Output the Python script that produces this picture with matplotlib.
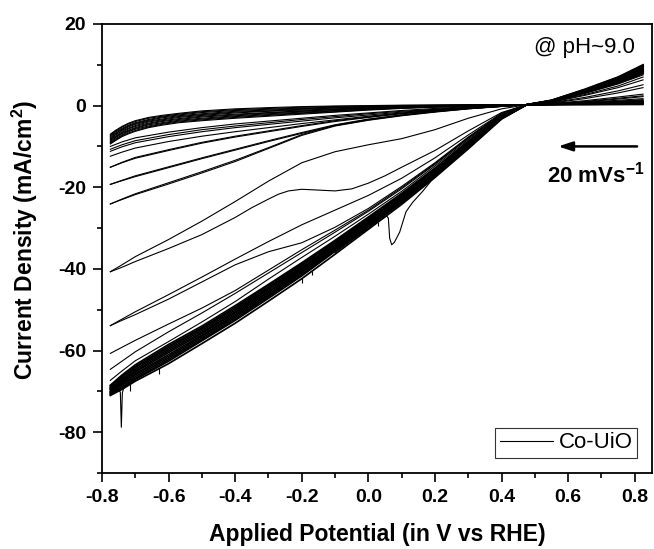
import matplotlib
matplotlib.use('Agg')
import matplotlib.pyplot as plt
from matplotlib.ticker import MultipleLocator

# ---------------- data ----------------
# common potential grid (V vs RHE)
E_grid = [-0.775, -0.74, -0.70, -0.60, -0.50, -0.40, -0.30, -0.20, -0.10, 0.00,
          0.10, 0.20, 0.30, 0.40, 0.475, 0.55, 0.65, 0.75, 0.825]

# finer grid used for the top cluster
E_top = [-0.775, -0.76, -0.74, -0.72, -0.70, -0.66, -0.62, -0.57, -0.50, -0.40,
         -0.30, -0.20, -0.10, 0.00, 0.10, 0.20, 0.30, 0.40, 0.475, 0.55, 0.65,
         0.75, 0.825]

# top cluster of cycles (mA/cm2)
J_top = [
    [-7.0, -6.1, -5.1, -4.3, -3.7, -2.9, -2.4, -1.9, -1.3, -0.8, -0.5, -0.25, -0.1, 0.0, 0.1, 0.15, 0.2, 0.2, 0.2, 0.2, 0.2, 0.2, 0.2],
    [-7.2, -6.3, -5.3, -4.5, -3.9, -3.1, -2.6, -2.1, -1.5, -1.0, -0.7, -0.4, -0.2, -0.1, 0.03, 0.1, 0.16, 0.18, 0.2, 0.2, 0.2, 0.25, 0.3],
    [-7.4, -6.5, -5.6, -4.8, -4.2, -3.4, -2.8, -2.3, -1.7, -1.2, -0.9, -0.6, -0.4, -0.2, -0.04, 0.05, 0.13, 0.16, 0.2, 0.2, 0.25, 0.3, 0.35],
    [-7.6, -6.8, -5.8, -5.0, -4.4, -3.6, -3.0, -2.5, -2.0, -1.4, -1.1, -0.75, -0.5, -0.3, -0.1, 0.0, 0.1, 0.15, 0.2, 0.2, 0.3, 0.35, 0.4],
    [-7.9, -7.0, -6.0, -5.2, -4.6, -3.8, -3.3, -2.7, -2.2, -1.6, -1.3, -0.9, -0.6, -0.4, -0.2, -0.05, 0.06, 0.13, 0.2, 0.25, 0.3, 0.4, 0.45],
    [-8.1, -7.2, -6.2, -5.5, -4.9, -4.0, -3.5, -2.9, -2.4, -1.8, -1.4, -1.1, -0.8, -0.5, -0.3, -0.1, 0.02, 0.11, 0.2, 0.25, 0.35, 0.45, 0.5],
    [-8.3, -7.5, -6.5, -5.7, -5.1, -4.3, -3.7, -3.2, -2.6, -2.1, -1.7, -1.3, -0.9, -0.6, -0.3, -0.15, 0.0, 0.09, 0.2, 0.25, 0.35, 0.5, 0.6],
    [-8.5, -7.7, -6.7, -6.0, -5.4, -4.5, -3.9, -3.4, -2.8, -2.3, -1.8, -1.4, -1.0, -0.7, -0.4, -0.2, -0.05, 0.07, 0.2, 0.25, 0.4, 0.55, 0.7],
    [-8.8, -7.9, -6.9, -6.2, -5.6, -4.7, -4.2, -3.6, -3.1, -2.5, -2.0, -1.6, -1.2, -0.8, -0.5, -0.25, -0.1, 0.05, 0.2, 0.3, 0.45, 0.6, 0.8],
    [-9.0, -8.2, -7.2, -6.4, -5.8, -5.0, -4.4, -3.8, -3.3, -2.7, -2.2, -1.8, -1.3, -0.9, -0.6, -0.3, -0.13, 0.04, 0.2, 0.3, 0.5, 0.7, 0.9],
    [-9.2, -8.4, -7.4, -6.7, -6.1, -5.2, -4.6, -4.0, -3.5, -2.9, -2.4, -1.9, -1.5, -1.0, -0.6, -0.35, -0.16, 0.02, 0.2, 0.3, 0.55, 0.8, 1.0],
    [-9.4, -8.6, -7.6, -6.9, -6.3, -5.4, -4.8, -4.2, -3.7, -3.1, -2.6, -2.1, -1.6, -1.1, -0.7, -0.4, -0.2, 0.0, 0.2, 0.3, 0.6, 0.9, 1.2],
]

# upper-middle cycles
J_upper = [
    [-10.0, -8.9, -7.9, -6.5, -5.4, -4.5, -3.8, -3.1, -2.4, -1.8, -1.2, -0.7, -0.3, 0.0, 0.2, 0.25, 0.35, 0.45, 0.5],
    [-10.7, -9.6, -8.6, -7.1, -5.9, -5.0, -4.2, -3.4, -2.7, -2.0, -1.4, -0.9, -0.4, 0.0, 0.2, 0.25, 0.4, 0.5, 0.6],
    [-11.2, -10.1, -9.1, -7.6, -6.4, -5.4, -4.6, -3.8, -3.0, -2.3, -1.6, -1.0, -0.5, -0.1, 0.2, 0.3, 0.45, 0.6, 0.7],
    [-12.4, -11.4, -10.4, -8.8, -7.5, -6.4, -5.4, -4.4, -3.5, -2.6, -1.8, -1.1, -0.6, -0.1, 0.2, 0.3, 0.5, 0.7, 0.85],
    [-15.1, -14.0, -12.9, -11.0, -9.2, -7.7, -6.4, -5.1, -3.9, -2.9, -2.0, -1.3, -0.7, -0.2, 0.2, 0.3, 0.55, 0.8, 1.0],
    [-15.1, -13.9, -12.7, -10.8, -9.0, -7.5, -6.2, -4.9, -3.7, -2.8, -1.9, -1.2, -0.6, -0.1, 0.2, 0.35, 0.6, 0.9, 1.1],
    [-19.3, -18.4, -17.4, -15.2, -13.0, -10.9, -8.8, -6.8, -4.9, -3.5, -2.4, -1.5, -0.8, -0.2, 0.2, 0.35, 0.7, 1.1, 1.4],
    [-19.3, -18.3, -17.2, -15.0, -12.8, -10.7, -8.6, -6.6, -4.7, -3.3, -2.3, -1.4, -0.7, -0.2, 0.2, 0.4, 0.8, 1.3, 1.7],
    [-24.1, -23.0, -21.8, -19.2, -16.5, -13.7, -10.5, -7.3, -5.0, -3.6, -2.5, -1.6, -0.8, -0.2, 0.2, 0.45, 1.0, 1.8, 2.4],
    [-24.1, -22.9, -21.6, -18.9, -16.2, -13.4, -10.3, -7.1, -4.8, -3.4, -2.3, -1.5, -0.7, -0.2, 0.2, 0.5, 1.2, 2.1, 2.8],
]

# the -41 cycle: smooth branch and branch with the hump
J_h_up = [-40.7, -39.0, -37.0, -32.8, -28.3, -23.5, -18.5, -14.0, -11.3, -9.6,
          -8.1, -5.9, -3.1, -0.8, 0.2, 0.3, 0.6, 1.0, 1.4]
E_hump = [-0.775, -0.74, -0.70, -0.60, -0.50, -0.40, -0.35, -0.30, -0.27, -0.24, -0.20,
          -0.15, -0.10, -0.05, 0.00, 0.05, 0.10, 0.20, 0.30, 0.40, 0.475, 0.55, 0.65,
          0.75, 0.825]
J_hump = [-40.7, -39.6, -38.2, -35.0, -31.6, -27.4, -25.0, -22.9, -21.7, -20.9, -20.5,
          -20.7, -20.9, -20.4, -19.0, -17.2, -15.1, -11.0, -6.2, -1.7, 0.2, 0.4, 0.9,
          1.6, 2.2]

# lower-middle cycles
J_lower = [
    [-53.9, -52.3, -50.5, -46.3, -42.0, -37.6, -33.3, -29.2, -25.6, -22.0, -17.8, -12.8, -7.2, -1.9, 0.2, 0.6, 1.7, 3.1, 4.4],
    [-53.9, -52.6, -51.2, -47.4, -43.2, -39.0, -35.8, -33.6, -29.8, -25.2, -19.8, -14.0, -7.7, -2.0, 0.2, 0.7, 2.0, 3.6, 5.1],
    [-60.7, -59.2, -57.5, -53.5, -49.6, -45.3, -40.3, -35.3, -30.5, -25.6, -20.1, -14.2, -7.9, -2.0, 0.2, 0.8, 2.5, 4.4, 6.3],
    [-64.6, -62.6, -60.3, -55.4, -50.8, -46.0, -41.0, -36.0, -31.0, -25.9, -20.4, -14.4, -8.0, -2.1, 0.2, 0.9, 2.7, 4.8, 7.0],
    [-67.3, -65.0, -62.5, -57.8, -53.0, -48.0, -42.5, -37.2, -32.0, -26.6, -21.0, -14.8, -8.3, -2.2, 0.2, 1.0, 3.0, 5.3, 7.5],
]

# dense band of late cycles
J_band = [
    [-71.0, -69.5, -67.5, -63.2, -58.3, -53.3, -47.9, -42.4, -36.4, -30.3, -24.2, -17.6, -10.6, -3.3, 0.2, 1.3, 4.0, 7.0, 10.0],
    [-70.8, -69.2, -67.1, -62.6, -57.6, -52.6, -47.2, -41.7, -35.7, -29.8, -23.8, -17.3, -10.3, -3.2, 0.2, 1.3, 3.9, 6.9, 9.8],
    [-70.5, -68.9, -66.8, -62.2, -57.3, -52.3, -46.8, -41.4, -35.5, -29.5, -23.5, -17.1, -10.2, -3.1, 0.2, 1.2, 3.8, 6.7, 9.6],
    [-70.3, -68.5, -66.4, -61.8, -56.9, -51.9, -46.5, -41.0, -35.2, -29.3, -23.3, -16.9, -10.0, -3.1, 0.2, 1.2, 3.8, 6.6, 9.4],
    [-70.1, -68.2, -66.0, -61.4, -56.5, -51.5, -46.2, -40.7, -34.9, -29.0, -23.1, -16.7, -9.8, -3.0, 0.2, 1.2, 3.7, 6.4, 9.2],
    [-69.9, -67.9, -65.7, -61.0, -56.2, -51.2, -45.8, -40.4, -34.6, -28.8, -22.9, -16.5, -9.7, -2.9, 0.2, 1.2, 3.6, 6.3, 9.0],
    [-69.6, -67.6, -65.3, -60.5, -55.8, -50.8, -45.5, -40.1, -34.4, -28.5, -22.6, -16.3, -9.5, -2.8, 0.2, 1.1, 3.5, 6.2, 8.8],
    [-69.4, -67.3, -65.0, -60.1, -55.5, -50.5, -45.1, -39.8, -34.1, -28.3, -22.4, -16.1, -9.4, -2.7, 0.2, 1.1, 3.4, 6.0, 8.6],
    [-69.2, -67.0, -64.6, -59.7, -55.1, -50.1, -44.8, -39.5, -33.8, -28.0, -22.2, -15.9, -9.2, -2.6, 0.2, 1.1, 3.4, 5.9, 8.4],
    [-69.0, -66.6, -64.2, -59.3, -54.7, -49.7, -44.5, -39.1, -33.5, -27.8, -22.0, -15.7, -9.0, -2.6, 0.2, 1.1, 3.3, 5.7, 8.2],
    [-68.7, -66.3, -63.9, -58.9, -54.4, -49.4, -44.1, -38.8, -33.3, -27.5, -21.7, -15.5, -8.9, -2.5, 0.2, 1.0, 3.2, 5.6, 8.0],
    [-68.5, -66.0, -63.5, -58.5, -54.0, -49.0, -43.8, -38.5, -33.0, -27.3, -21.5, -15.3, -8.7, -2.4, 0.2, 1.0, 3.1, 5.5, 7.8],
]

# cycle with the sharp peak near 0.07 V
E_peak = [-0.10, 0.00, 0.055, 0.060, 0.064, 0.070, 0.078, 0.094, 0.113, 0.133, 0.163, 0.193, 0.20]
J_peak = [-36.0, -30.0, -27.0, -27.6, -32.5, -34.1, -33.5, -31.0, -26.0, -23.7, -21.0, -18.0, -17.5]

# spike near -0.74 V
E_spike = [-0.775, -0.75, -0.745, -0.742, -0.739, -0.735, -0.70]
J_spike = [-70.6, -69.6, -70.2, -78.8, -70.4, -69.2, -67.3]

# small noise spikes along the band
E_noise = [-0.715, -0.63, -0.20, -0.17, 0.03]
J_noise_top = [-68.3, -64.3, -42.2, -40.4, -28.4]
J_noise_bot = [-70.0, -65.8, -43.5, -41.6, -29.6]

series_label = 'Co-UiO'
x_ticks = [-0.8, -0.6, -0.4, -0.2, 0.0, 0.2, 0.4, 0.6, 0.8]
y_ticks = [-80, -60, -40, -20, 0, 20]

# ---------------- style ----------------
plt.rcParams['font.family'] = ['Liberation Sans', 'DejaVu Sans']
plt.rcParams['mathtext.fontset'] = 'custom'
plt.rcParams['mathtext.rm'] = 'Liberation Sans'
plt.rcParams['mathtext.bf'] = 'Liberation Sans:bold'
plt.rcParams['mathtext.it'] = 'Liberation Sans:italic'
plt.rcParams['axes.unicode_minus'] = False

fig = plt.figure(figsize=(6.54, 5.49), dpi=100)
ax = fig.add_axes([0.156, 0.1384, 0.841, 0.818])

lw = 0.8
ax.plot(E_top, J_top[0], color='k', lw=lw, label=series_label)
for J in J_top[1:]:
    ax.plot(E_top, J, color='k', lw=lw)
for J in J_upper + [J_h_up] + J_lower:
    ax.plot(E_grid, J, color='k', lw=lw)
for J in J_band:
    ax.plot(E_grid, J, color='k', lw=1.25)
ax.plot(E_hump, J_hump, color='k', lw=lw)
ax.plot(E_peak, J_peak, color='k', lw=lw)
ax.plot(E_spike, J_spike, color='k', lw=lw)
ax.vlines(E_noise, J_noise_bot, J_noise_top, color='k', lw=lw)

ax.set_xlim(-0.8, 0.852)
ax.set_ylim(-90, 20)
ax.set_xticks(x_ticks)
ax.set_yticks(y_ticks)
ax.xaxis.set_minor_locator(MultipleLocator(0.1))
ax.yaxis.set_minor_locator(MultipleLocator(10))
ax.xaxis.set_major_formatter(plt.FuncFormatter(lambda v, p: f'{v:.1f}'))
ax.tick_params(which='major', direction='out', length=6.5, width=1.2,
               labelsize=14, pad=5, top=False, right=False)
ax.tick_params(which='minor', direction='out', length=3.5, width=1.2,
               top=False, right=False)
for lab in ax.get_xticklabels() + ax.get_yticklabels():
    lab.set_fontweight('bold')
for s in ax.spines.values():
    s.set_linewidth(1.3)

ax.set_xlabel('Applied Potential (in V vs RHE)', fontsize=16.5, fontweight='bold')
ax.set_ylabel(r'Current Density (mA/cm$^{\mathbf{2}}$)', fontsize=16.5, fontweight='bold')
ax.xaxis.set_label_coords(0.5, -0.112)
ax.yaxis.set_label_coords(-0.112, 0.52)

ax.text(0.969, 0.935, '@ pH~9.0', transform=ax.transAxes, ha='right',
        va='baseline', fontsize=16)
ax.annotate('', xy=(0.570, -10), xytext=(0.807, -10),
            arrowprops=dict(arrowstyle='-|>,head_length=0.85,head_width=0.28',
                            lw=1.8, color='k', shrinkA=0, shrinkB=0))
ax.text(0.828, -18.9, r'20 mVs$^{\mathbf{-1}}$', ha='right', va='baseline',
        fontsize=16, fontweight='bold')

leg = ax.legend(loc='lower right', bbox_to_anchor=(0.973, 0.034), borderaxespad=0,
                frameon=True, fancybox=False, edgecolor='k', fontsize=16,
                handlelength=2.4, handletextpad=0.25, borderpad=0.2)
leg.get_frame().set_linewidth(0.8)

fig.savefig('out.png', dpi=100)
